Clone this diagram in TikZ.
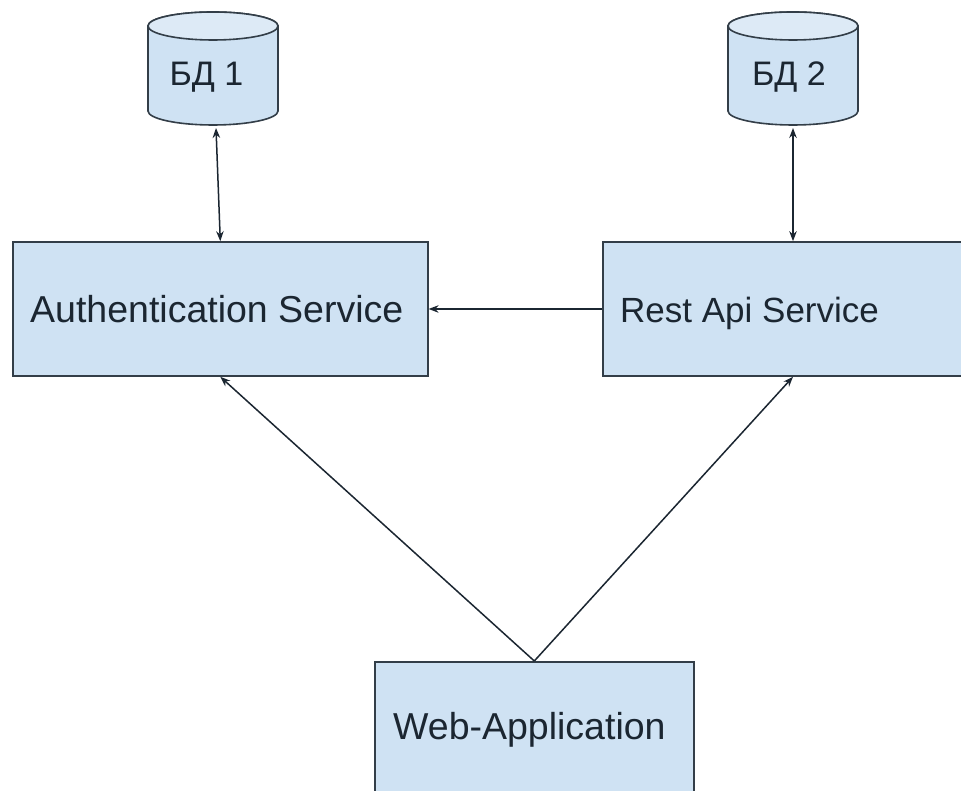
\documentclass[tikz,border=0pt]{standalone}
\usepackage{fontspec}
\setmainfont{Liberation Sans}
\usetikzlibrary{arrows.meta}
\definecolor{boxfill}{HTML}{CFE2F3}
\definecolor{capfill}{HTML}{DDEAF6}
\definecolor{edge}{HTML}{333E48}
\definecolor{ink}{HTML}{1B2631}
\begin{document}
\begin{tikzpicture}[x=1pt,y=1pt,
  servicebox/.style={draw=edge, line width=1.6pt, fill=boxfill, inner sep=0pt},
  servicetext/.style={text=ink, font=\fontsize{37.5}{42}\selectfont, inner sep=0pt, anchor=base west},
  dblabel/.style={text=ink, font=\fontsize{34}{38}\selectfont,
    minimum width=130pt, minimum height=96pt, inner sep=0pt},
  link/.style={draw=ink, line width=1.5pt, -{Stealth[length=10pt,width=7.5pt]}},
  both/.style={draw=ink, line width=1.5pt, {Stealth[length=10pt,width=7.5pt]}-{Stealth[length=10pt,width=7.5pt]}},
  dbbody/.style={draw=edge, line width=1.6pt, fill=boxfill},
  dbcap/.style={draw=edge, line width=1.6pt, fill=capfill},
]
\useasboundingbox (0,0) rectangle (961,791);
\fill[white] (0,0) rectangle (961,791);
\begin{scope}
\clip (0,0) rectangle (961,791);
% database cylinders
\foreach \cx in {213,793} {
  \filldraw[dbbody] (\cx-65,765) -- (\cx-65,680)
    arc[start angle=180,end angle=360,x radius=65pt,y radius=14pt]
    -- (\cx+65,765)
    arc[start angle=0,end angle=180,x radius=65pt,y radius=14pt] -- cycle;
  \filldraw[dbcap] (\cx,765) ellipse[x radius=65pt, y radius=14pt];
}
\node[dblabel] (db1) at (206.5,714) {БД 1};
\node[dblabel] (db2) at (789,714) {БД 2};
% service boxes
\node[servicebox, anchor=west, minimum width=415pt, minimum height=134pt] (auth) at (12,482) {};
\node[servicebox, anchor=west, minimum width=388pt, minimum height=134pt] (rest) at (602,482) {};
\node[servicebox, anchor=north west, minimum width=319pt, minimum height=170pt] (web) at (374,130) {};
% service labels, left aligned in their boxes
\node[servicetext] (authlabel) at ([xshift=18pt]auth.west |- 0,468) {Authentication Service};
\node[servicetext, font=\fontsize{35}{40}\selectfont] (restlabel) at ([xshift=18pt]rest.west |- 0,468) {Rest Api Service};
\node[servicetext] (weblabel) at ([xshift=19pt]web.north west |- 0,51) {Web-Application};
% connectors
\coordinate (db1foot) at (216,663);
\coordinate (db2foot) at (793,663);
\draw[both] (db1foot) -- (auth.north);
\draw[both] (db2foot) -- (db2foot |- rest.north);
\draw[link] (rest.west) -- (auth.east);
\draw[link] (web.north) -- (auth.south);
\draw[link] (web.north) -- (db2foot |- rest.south);
\end{scope}
\end{tikzpicture}
\end{document}
